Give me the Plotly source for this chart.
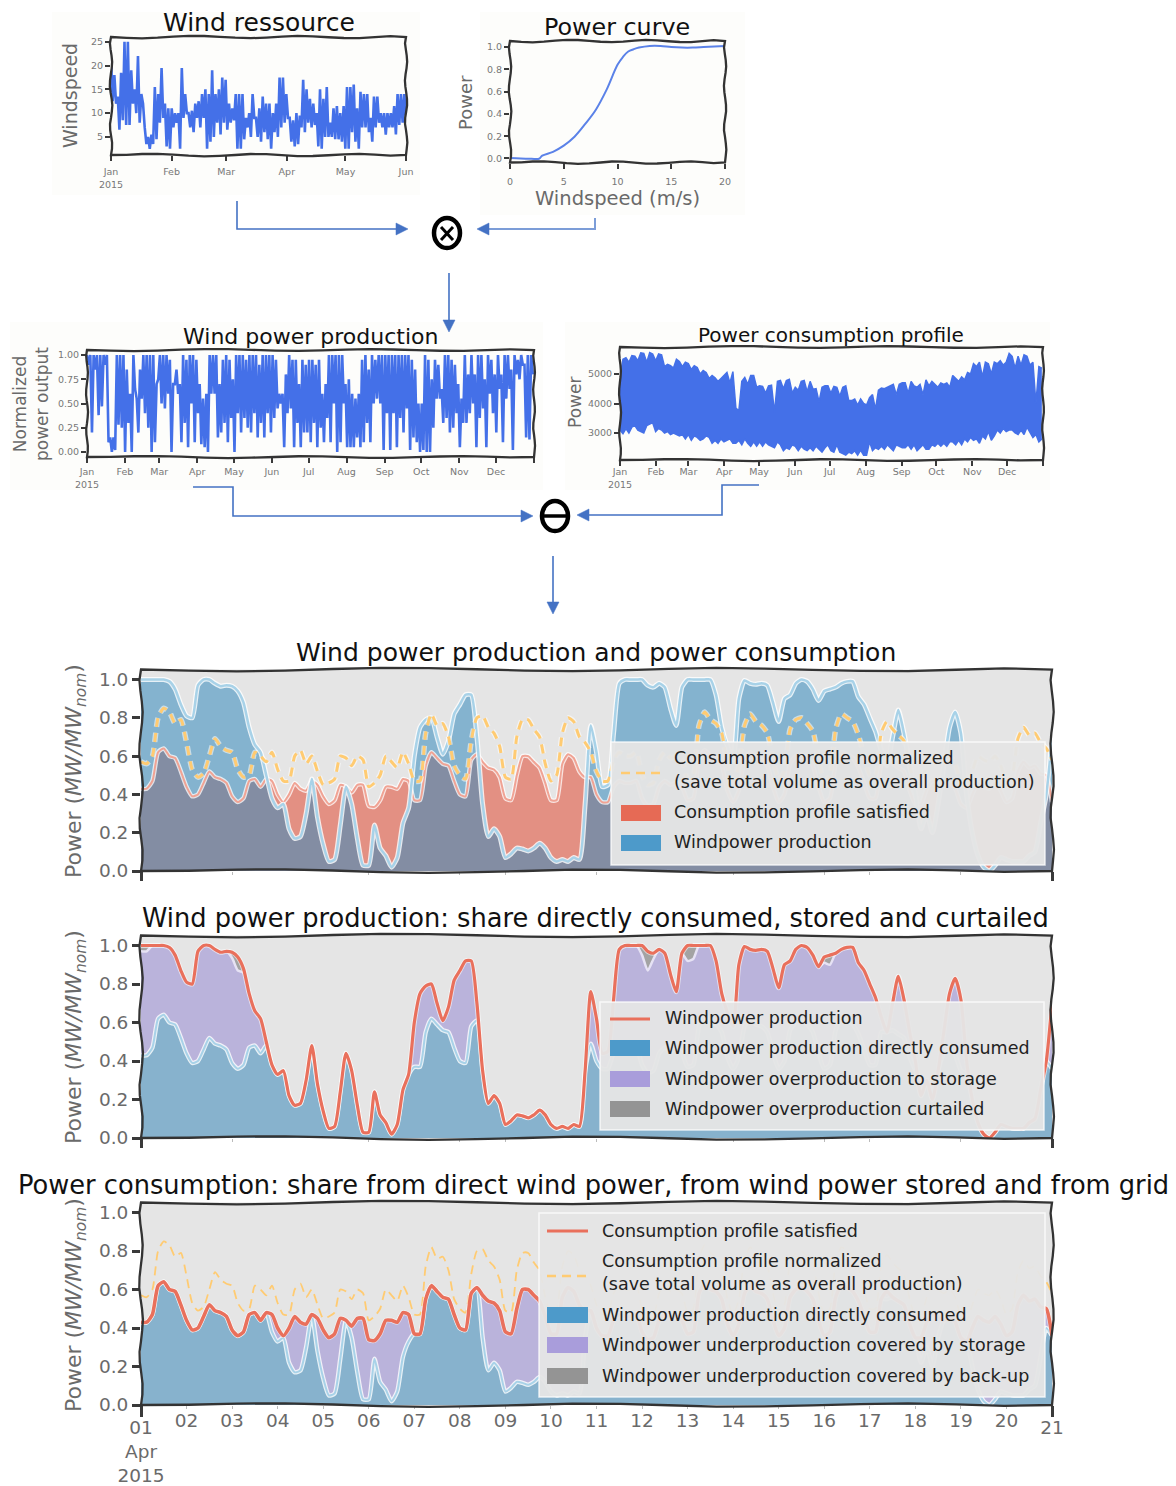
import numpy as np
import pandas as pd
import plotly.graph_objects as go

W, H = 1176, 1486
FONT = "DejaVu Sans"

# ---------- data ----------
wind_high = [21.5,18,13.5,18.5,25,25,19,15,22,14,7,5,5.5,15.5,14,19.5,12,11,11,10,10,19.5,14,10,10.5,12,12.5,14,15,14,19,14,15,17.5,17,12,11,14,14,14,9,10,14,9,11,13.5,12,12,10,12,17.5,17.5,14,9,8.5,10,9.5,17,15,13,12,10,15,13,15.5,8,11,11.5,10,11.5,15.5,15.5,16,11,14.5,14,14,9,13.5,13.5,10,10,10,10,11.5,14,14,14]
wind_low = [12.5,12,6.5,8.5,7.5,7.5,12,10,8,12,3.5,2.5,3.5,4.5,8,9,3,2.5,7,8,2.5,9,10,7,6,9,7,9,2.5,4,5,8,5.5,8,6.5,8,8.5,2.5,2.5,4.5,7,5,9,5,4,6,4.5,2.5,6,5,7,8,9,4,3,3.5,7,6,8,7,7.5,3,2.5,5,5,5,4.5,4.5,4,2.5,2.5,6,4,2.5,7,7,6,4,7,8,7,5.5,7,7,5.5,7.5,8,9]

curve_speed = [0,1,2,2.7,3,4,5,6,7,8,9,10,10.5,11,11.5,12,13,14,15,16,17,18,19,20]
curve_power = [.005,0,-.002,-.002,.025,.06,.115,.195,.31,.44,.62,.84,.91,.96,.98,.995,1.01,1.01,1.0,.995,.995,1.0,1.005,1.01]

prod_high = [1,1,1,1,1,1,1,.15,.15,1,1,1,.85,.6,1,.55,.85,1,1,1,1,.7,1,1,1,.95,.7,.85,.7,1,.95,1,1,.95,.7,.55,.6,1,1,1,.7,.95,1,.95,.75,1,1,1,.95,1,1,1,.9,1,1,1,1,.95,.6,.6,.8,1,.95,.95,.7,.95,.9,.95,.95,
 .9,.95,.6,.7,1,1,1,1,1,.7,.75,.6,.55,.6,.95,1,.85,1,.95,1,1,1,1,1,1,1,1,1,1,.95,.85,.5,.5,1,.95,.75,.95,.9,.65,1,1,.95,.9,.7,.55,1,.8,1,.8,1,1,.75,1,.95,.8,1,.8,1,1,.85,1,.95,1,.9,1,1]
prod_low = [.9,.2,.85,.38,.47,.9,.1,0,.02,.28,.25,0,.3,0,.65,.2,.55,.4,.25,0,.1,.75,.5,.45,.6,0,.7,.6,.1,.3,.05,.5,.1,.4,.08,.05,0,.6,.6,.15,.2,.3,.1,.35,0,.4,.2,.35,.25,.2,.4,.15,.3,.15,.4,.2,.35,.45,.5,.05,.4,.45,.05,.3,.05,.2,.2,.1,.3,
 .05,.25,.1,.35,.1,.5,0,.1,.5,.05,.05,.05,.15,.05,.1,.3,.1,.5,.55,.5,.02,.4,.02,.4,.05,.35,.2,.45,.02,.15,.1,0,.02,0,0,.25,.55,.55,.3,.35,.2,.25,.4,.05,.3,.3,.4,.5,.05,.35,.45,.05,.6,.4,.2,.65,.1,.55,.65,.02,.8,.75,.9,.15,.13,.8]

cons_high = [4900,5500,5550,5400,5620,5600,5450,5720,5700,5400,5730,5680,
 5450,5680,5650,5250,5330,5280,5200,5500,5420,5250,5400,
 5350,5150,5280,5220,5000,5120,5050,4850,4950,4870,4750,4850,
 4950,5050,4700,5080,3850,3750,4750,4880,4650,4950,4950,4550,
 4600,4580,4350,4600,4620,3700,4750,4780,4500,4780,4820,4350,
 4550,4450,4750,4780,4400,4750,4480,4500,4050,4550,4600,4600,
 4350,4580,4550,4250,4550,4600,4100,4100,4150,3950,4150,4000,
 3950,4200,4300,3800,4450,4520,4500,4550,4600,4650,4300,4650,
 4700,4700,4350,4750,4600,4550,4650,4300,4800,4600,4750,4650,
 4550,4700,4650,4700,4550,4950,4850,4750,4900,4800,5050,5000,
 5350,5250,5400,4900,5400,5350,5000,5400,5350,5450,5300,5400,
 5700,5600,5200,5600,5300,5650,5600,5300,5400,4000,5250,5200]
cons_low = [3100,2980,3150,3000,3200,3250,3100,3050,3000,3250,3300,3350,
 3050,3150,3100,3000,3050,2950,3000,2950,2900,2950,2800,
 2950,2750,2900,2850,2750,2800,2900,2850,2650,2750,2650,2800,
 2700,2750,2800,2650,2650,2750,2600,2800,2650,2550,2700,2550,
 2700,2550,2700,2600,2550,2500,2700,2600,2400,2500,2450,2600,
 2550,2400,2550,2450,2400,2500,2400,2550,2450,2350,2500,2600,
 2400,2350,2600,2350,2300,2250,2350,2300,2400,2250,2420,2250,
 2250,2700,2400,2500,2450,2550,2450,2600,2500,2400,2600,2550,
 2500,2500,2600,2450,2600,2400,2500,2600,2450,2450,2600,2550,
 2650,2550,2650,2550,2700,2700,2600,2750,2600,2800,2700,2850,
 2750,2800,2650,2900,2800,3050,2750,2900,3100,3000,3150,3050,
 3100,3100,3000,2950,3100,2950,3200,3000,2850,2950,2700,2800]

# three-hourly series, 1 to 21 April 2015
wind_power = [1,1,1,1,1,.99,.95,.87,.81,.80,.97,1,1,.98,.965,.97,.965,.94,.88,.75,.66,.62,.50,.38,.33,.35,.22,.17,.18,.30,.48,.28,.14,.05,.06,.24,.44,.35,.17,.03,.03,.24,.12,.08,.02,.07,.25,.33,.60,.75,.79,.80,.70,.61,.68,.82,.87,.92,.92,.70,.35,.18,.22,.18,.07,.09,.12,.115,.105,.12,.145,.12,.07,.05,.06,.05,.07,.06,.35,.76,.62,
 .44,.45,.72,.98,1,1,1,1,.97,.96,.98,.96,.85,.76,.96,1,1,1,1,1,.92,.75,.65,.58,.9,.995,.98,.975,.98,.97,.88,.78,.90,.92,.98,1,.99,.95,.89,.94,.95,.96,.98,.99,.99,.91,.87,.80,.73,.63,.55,.70,.84,.72,.55,.40,.22,.30,.20,.35,.55,.75,.83,.72,.40,.20,.08,.02,0,.03,.07,.06,.05,.05,.05,.08,.10,.25,.40,.70]
satisfied = [.43,.43,.47,.62,.64,.60,.59,.52,.44,.39,.40,.46,.52,.49,.48,.46,.39,.36,.38,.47,.48,.44,.48,.47,.40,.36,.40,.46,.43,.42,.47,.45,.39,.35,.37,.45,.44,.41,.45,.45,.34,.335,.37,.44,.44,.43,.48,.47,.37,.37,.55,.62,.59,.56,.55,.47,.40,.39,.58,.61,.57,.54,.53,.49,.38,.37,.50,.60,.60,.57,.54,.46,.37,.37,.56,.61,.59,.52,.49,.49,.40,
 .36,.36,.44,.47,.46,.46,.47,.38,.34,.35,.44,.47,.45,.46,.44,.37,.38,.58,.63,.60,.59,.55,.42,.36,.42,.58,.62,.59,.58,.55,.44,.36,.40,.56,.60,.61,.59,.55,.44,.36,.38,.56,.62,.61,.59,.54,.46,.38,.38,.55,.59,.56,.54,.52,.42,.35,.35,.43,.47,.46,.44,.46,.43,.35,.33,.40,.46,.44,.43,.46,.42,.36,.38,.52,.57,.54,.55,.51,.50,.36]
normalized = [.57,.56,.60,.80,.85,.83,.77,.79,.67,.53,.49,.51,.60,.69,.65,.63,.62,.53,.49,.50,.62,.60,.57,.62,.53,.47,.47,.60,.63,.56,.60,.52,.45,.46,.48,.60,.59,.55,.60,.58,.44,.46,.50,.60,.57,.54,.62,.56,.47,.47,.72,.82,.76,.77,.70,.55,.50,.48,.68,.80,.81,.75,.72,.65,.49,.48,.70,.79,.79,.74,.70,.56,.47,.50,.72,.80,.78,.70,.67,.62,.52,
 .47,.47,.58,.62,.60,.60,.62,.50,.45,.46,.58,.62,.59,.60,.58,.48,.50,.76,.83,.79,.77,.72,.55,.47,.55,.76,.82,.78,.76,.72,.58,.48,.52,.74,.79,.80,.77,.73,.58,.47,.50,.74,.82,.80,.78,.71,.60,.50,.50,.72,.78,.74,.71,.68,.55,.46,.46,.56,.62,.60,.58,.60,.56,.46,.44,.52,.60,.58,.57,.60,.55,.47,.50,.69,.75,.71,.72,.67,.64,.58]
curtailed_steps = [0,1,16,17,18,88,89,90,96,97,120,121]
curtailed_vals = [.03,.03,.03,.07,.02,.05,.10,.03,.08,.07,.03,.05]

month_ticks_5 = ["2015-01-01","2015-02-01","2015-03-01","2015-04-01","2015-05-01","2015-06-01"]
month_labels_5 = ["Jan<br>2015","Feb","Mar","Apr","May","Jun"]
month_ticks_12 = ["2015-%02d-01"%m for m in range(1,13)]
month_labels_12 = ["Jan<br>2015","Feb","Mar","Apr","May","Jun","Jul","Aug","Sep","Oct","Nov","Dec"]
faint_days = ["2015-04-03","2015-04-06","2015-04-08","2015-04-09","2015-04-11","2015-04-14","2015-04-16","2015-04-17","2015-04-19"]

# ---------- derived ----------
def zigzag(hi,lo):
    k=min(len(hi),len(lo)); z=np.empty(2*k); z[0::2]=hi[:k]; z[1::2]=lo[:k]; return z
wind_speed = zigzag(wind_high,wind_low)
production = zigzag(prod_high,prod_low)
t_wind = pd.date_range("2015-01-01","2015-06-01",periods=len(wind_speed))
t_prod = pd.date_range("2015-01-01","2015-12-31",periods=len(production))
t_cons = pd.date_range("2015-01-01","2015-12-31",periods=min(len(cons_high),len(cons_low)))
w = np.array(wind_power); s = np.array(satisfied); n = np.array(normalized)
m = min(len(w),len(s),len(n)); w=w[:m]; s=s[:m]; n=n[:m]
t3h = pd.date_range("2015-04-01","2015-04-21",periods=m)
c = np.zeros(m); c[curtailed_steps]=curtailed_vals
direct = np.minimum(w,s)
stored_top = w-c

BG="#e5e5e5"; BLUE="#4470e8"; TXT="#111111"; GR="#6a6a6a"
WFILL="rgba(52,138,189,0.55)"; RFILL="rgba(226,74,51,0.55)"
LILAC="#bab3db"; CYAN="#a8d2e8"; RED="#e9705c"; YEL="#ffcb72"

fig=go.Figure()
layout_axes={}
shapes=[]; ann=[]

def fx(x): return x/W
def fy(y): return 1-y/H

def axes(i,x0,x1,ytop,ybot,xr,yr,xa,ya):
    sx="" if i==1 else str(i)
    base=dict(showgrid=False,zeroline=False,showline=False,ticks="outside",tickcolor="#3a3a3a")
    layout_axes["xaxis"+sx]={**base,"domain":[fx(x0),fx(x1)],"anchor":"y"+sx,"range":xr,**xa}
    layout_axes["yaxis"+sx]={**base,"domain":[fy(ybot),fy(ytop)],"anchor":"x"+sx,"range":yr,**ya}
    return dict(xaxis="x"+sx,yaxis="y"+sx)

SMALL=dict(size=9.5,color="#777777",family=FONT)
def sm(tv,tt,tl=5,font=SMALL):
    return dict(tickmode="array",tickvals=tv,ticktext=tt,ticklen=tl,tickwidth=2,tickfont=font)
END=dict(minor=dict(tickmode="array",tickvals=["2016-01-01"],ticks="outside",ticklen=5,tickwidth=2,tickcolor="#3a3a3a"))

# 1 wind resource
a=axes(1,111,406,37,155,["2015-01-01","2015-06-01"],[1.2,26.0],
       dict(type="date",ticklabelstandoff=3,**sm(month_ticks_5,month_labels_5)),
       sm([5,10,15,20,25],["5","10","15","20","25"]))
fig.add_trace(go.Scatter(x=t_wind,y=wind_speed,mode="lines",line=dict(color=BLUE,width=2.6),showlegend=False,**a))
# 2 power curve
a=axes(2,510,725,41,162.5,[0,20],[-.036,1.054],
       dict(ticklabelstandoff=5,**sm([0,5,10,15,20],["0","5","10","15","20"])),
       sm([0,.2,.4,.6,.8,1],["0.0","0.2","0.4","0.6","0.8","1.0"]))
fig.add_trace(go.Scatter(x=curve_speed,y=curve_power,mode="lines",line=dict(color="#5b82e8",width=2,shape="spline"),showlegend=False,**a))
# 3 production
a=axes(3,87,534,350,457,["2015-01-01","2016-01-01"],[-.052,1.052],
       dict(type="date",ticklabelstandoff=1,**sm(month_ticks_12,month_labels_12),**END),
       sm([0,.25,.5,.75,1],["0.00","0.25","0.50","0.75","1.00"]))
fig.add_trace(go.Scatter(x=t_prod,y=production,mode="lines",line=dict(color=BLUE,width=2.6),showlegend=False,**a))
# 4 consumption profile
a=axes(4,620,1043,347,460,["2015-01-01","2016-01-01"],[2085,5915],
       dict(type="date",ticklabelstandoff=-2,**sm(month_ticks_12,month_labels_12),**END),
       sm([3000,4000,5000],["3000","4000","5000"]))
fig.add_trace(go.Scatter(x=t_cons,y=cons_high,mode="lines",line=dict(color=BLUE,width=1.5),showlegend=False,**a))
fig.add_trace(go.Scatter(x=t_cons,y=cons_low,mode="lines",line=dict(color=BLUE,width=1.5),fill="tonexty",fillcolor=BLUE,showlegend=False,**a))

BIG=dict(size=18.5,color=GR,family=FONT)
ytv=[0,.2,.4,.6,.8,1]; ytt=["0.0","0.2","0.4","0.6","0.8","1.0"]
xr3=["2015-04-01","2015-04-21"]
def bigx():
    return dict(type="date",tickmode="array",tickvals=["2015-04-01","2015-04-21"],ticklen=9,tickwidth=3,
                showticklabels=False,minor=dict(tickmode="array",tickvals=faint_days,ticklen=3,tickcolor="#bbbbbb",ticks="outside",tickwidth=1))
bigy=dict(tickmode="array",tickvals=ytv,ticktext=ytt,ticklen=8,tickwidth=2.5,tickfont=BIG)
YR=[0,1.052]
def line(y,a,color,width,dash=None):
    return go.Scatter(x=t3h,y=y,mode="lines",line=dict(color=color,width=width,dash=dash,shape="spline",smoothing=.6),showlegend=False,hoverinfo="skip",**a)
def area(y,a,color,fill):
    return go.Scatter(x=t3h,y=y,mode="lines",line=dict(width=0,shape="spline",smoothing=.6),fill=fill,fillcolor=color,showlegend=False,**a)

# 5 production and consumption
a=axes(5,141,1052,669.5,871,xr3,YR,bigx(),bigy)
fig.add_trace(area(s,a,RFILL,"tozeroy"))
fig.add_trace(area(w,a,WFILL,"tozeroy"))
fig.add_trace(line(s,a,"rgba(255,255,255,.75)",4.5)); fig.add_trace(line(s,a,"#f0a394",2))
fig.add_trace(line(w,a,"rgba(255,255,255,.8)",5)); fig.add_trace(line(w,a,CYAN,2.5))
DS="9px,6px"
fig.add_trace(line(n,a,"rgba(255,255,255,.55)",5.5,DS)); fig.add_trace(line(n,a,YEL,3,DS))

# 6 share of production
a=axes(6,141,1052,935.5,1138,xr3,YR,bigx(),bigy)
fig.add_trace(area(direct,a,"#87b2cd","tozeroy"))
fig.add_trace(area(stored_top,a,LILAC,"tonexty"))
fig.add_trace(area(w,a,"#a3a3a3","tonexty"))
fig.add_trace(line(stored_top,a,"#e6e2f4",2.5))
fig.add_trace(line(direct,a,"rgba(255,255,255,.8)",4.5)); fig.add_trace(line(direct,a,CYAN,2))
fig.add_trace(line(w,a,"rgba(255,255,255,.6)",5)); fig.add_trace(line(w,a,RED,3.2))

# 7 share of consumption
a=axes(7,141,1052,1202.5,1405,xr3,YR,
       dict(type="date",tickmode="array",tickvals=["2015-04-%02d"%d for d in range(2,21)],ticktext=["%02d"%d for d in range(2,21)],ticklen=3,tickwidth=1,tickcolor="#bbbbbb",tickfont=BIG,ticklabelstandoff=-4),bigy)
fig.add_trace(area(direct,a,"#87b2cd","tozeroy"))
fig.add_trace(area(s,a,LILAC,"tonexty"))
fig.add_trace(line(direct,a,"rgba(255,255,255,.8)",4.5)); fig.add_trace(line(direct,a,CYAN,2))
fig.add_trace(line(n,a,YEL,1.8,"9px,6px"))
fig.add_trace(line(s,a,"rgba(255,255,255,.6)",5)); fig.add_trace(line(s,a,RED,3.6))
layout_axes["xaxis8"]=dict(domain=layout_axes["xaxis7"]["domain"],anchor="y7",overlaying="x7",range=xr3,type="date",showgrid=False,zeroline=False,
    tickmode="array",tickvals=["2015-04-01","2015-04-21"],ticktext=["01<br>Apr<br>2015","21"],ticks="outside",ticklen=11,tickwidth=3,tickcolor="#3a3a3a",tickfont=BIG,ticklabelstandoff=-5)
fig.add_trace(go.Scatter(x=["2015-04-01"],y=[0],xaxis="x8",yaxis="y7",mode="markers",marker=dict(opacity=0,size=1),showlegend=False,hoverinfo="skip"))

# ---------- page decoration ----------
def rect(x0,y0,x1,y1,fill,layer="above"):
    shapes.append(dict(type="rect",xref="paper",yref="paper",x0=fx(x0),x1=fx(x1),y0=fy(y0),y1=fy(y1),fillcolor=fill,layer=layer,line=dict(width=0)))
for r in [(52,12,420,195),(480,12,745,215),(10,322,543,490),(565,322,1050,490)]:
    rect(*r,"#fdfdfb",layer="below")

WOB=[0,.9,1.5,.8,-.4,-1.3,-1.1,-.2,.8,1.3,.6,-.5,-1.2,-.7,.3,1.1,1.2,.2,-.9,-1.1]
def wavy(x0,y0,x1,y1,amp,start):
    n_=len(WOB); pts=[]
    for k in range(n_):
        t=k/(n_-1); o=WOB[(k+start)%n_]*amp*(0 if k in(0,n_-1) else 1)
        if y0==y1: pts.append((x0+(x1-x0)*t,y0+o))
        else: pts.append((x0+o,y0+(y1-y0)*t))
    return pts
def frame(x0,y0,x1,y1,amp=1.0,lw=2.3):
    p=wavy(x0,y0,x1,y0,amp,0)+wavy(x1,y0,x1,y1,amp,5)[1:]+wavy(x1,y1,x0,y1,amp,9)[1:]+wavy(x0,y1,x0,y0,amp,14)[1:]
    path="M "+" L ".join("%.5f,%.5f"%(fx(a_),fy(b_)) for a_,b_ in p)+" Z"
    shapes.append(dict(type="path",path=path,xref="paper",yref="paper",line=dict(color="#333333",width=lw),layer="above"))
def poly(pts,color,lw=1.6,fill=None):
    path="M "+" L ".join("%.5f,%.5f"%(fx(a_),fy(b_)) for a_,b_ in pts)+(" Z" if fill else "")
    d=dict(type="path",path=path,xref="paper",yref="paper",line=dict(color=color,width=lw),layer="above")
    if fill: d["fillcolor"]=fill
    shapes.append(d)
AR="#4472c4"; ARL="#7c9dd8"
def head(tx,ty,dx,dy):
    L=12;Hw=6
    if dx: pts=[(tx,ty),(tx-dx*L,ty-Hw),(tx-dx*L,ty+Hw)]
    else: pts=[(tx,ty),(tx-Hw,ty-dy*L),(tx+Hw,ty-dy*L)]
    poly(pts,AR,0.5,AR)
poly([(237,201),(237,229),(397,229)],AR); head(408,229,1,0)
poly([(595,218),(595,229),(487,229)],ARL,2); head(477,229,-1,0)
poly([(449,273),(449,322)],AR); head(449,332,0,1)
poly([(193,487),(233,487),(233,516),(522,516)],AR); head(533,516,1,0)
poly([(759,485),(722,485),(722,515),(588,515)],AR); head(577,515,-1,0)
poly([(553,556),(553,604)],AR); head(553,614,0,1)

def circle(cx,cy,rx,ry):
    shapes.append(dict(type="circle",xref="paper",yref="paper",x0=fx(cx-rx),x1=fx(cx+rx),y0=fy(cy-ry),y1=fy(cy+ry),line=dict(color="#000",width=4.5),fillcolor="#ffffff",layer="above"))
circle(447,233,13,15)
poly([(441,227),(453,240)],"#000",3); poly([(453,227),(441,240)],"#000",3)
circle(555,516,13,15)
poly([(544,516),(566,516)],"#000",3.5)

def text(x,y,t,size,color=TXT,angle=0,anchor="center"):
    ann.append(dict(x=fx(x),y=fy(y),xref="paper",yref="paper",text=t,showarrow=False,xanchor=anchor,yanchor="middle",textangle=angle,
                    font=dict(family=FONT,size=size,color=color)))
text(259,23,"Wind ressource",25)
text(617,27,"Power curve",23.8)
text(617,199,"Windspeed (m/s)",19.5,GR)
text(310,337,"Wind power production",22)
text(831,335,"Power consumption profile",20)
text(596,652,"Wind power production and power consumption",25)
text(595,918,"Wind power production: share directly consumed, stored and curtailed",25.7)
text(594,1185,"Power consumption: share from direct wind power, from wind power stored and from grid",25.7)
text(70,96,"Windspeed",19,GR,-90)
text(465,103,"Power",18,GR,-90)
text(31,404,"Normalized<br>power output",17,GR,-90)
text(575,403,"Power",17,GR,-90)
YT="Power (<i>MW/MW<sub>nom</sub></i>)"
text(75,771,YT,22,GR,-90); text(75,1037,YT,22,GR,-90); text(75,1305,YT,22,GR,-90)

def legend(box,sx0,sx1,tx,rows,fs):
    shapes.append(dict(type="rect",xref="paper",yref="paper",x0=fx(box[0]),x1=fx(box[2]),y0=fy(box[1]),y1=fy(box[3]),
        fillcolor="rgba(229,229,229,.96)",line=dict(color="rgba(255,255,255,.75)",width=1.5),layer="above"))
    for r in rows:
        kind=r[0]
        if kind=="t":
            text(tx,r[1],r[2],fs,"#222222",anchor="left")
        elif kind=="a":
            shapes.append(dict(type="rect",xref="paper",yref="paper",x0=fx(sx0),x1=fx(sx1),y0=fy(r[1]-8),y1=fy(r[1]+8),fillcolor=r[2],line=dict(width=0),layer="above"))
        elif kind=="l":
            shapes.append(dict(type="line",xref="paper",yref="paper",x0=fx(sx0),x1=fx(sx1),y0=fy(r[1]),y1=fy(r[1]),line=dict(color=r[2],width=3),layer="above"))
        elif kind=="d":
            shapes.append(dict(type="line",xref="paper",yref="paper",x0=fx(sx0),x1=fx(sx1),y0=fy(r[1]),y1=fy(r[1]),line=dict(color=r[2],width=2.5,dash="9px,6px"),layer="above"))
A_B="#4d9aca"; A_R="#e66a55"; A_L="#a99ddb"; A_G="#949494"
FS=17.5
legend((611,742,1045,865),621,661,672,[("d",773,YEL),("t",758,"Consumption profile normalized"),("t",782,"(save total volume as overall production)"),
   ("a",813,A_R),("t",812,"Consumption profile satisfied"),("a",843,A_B),("t",842,"Windpower production")],FS)
legend((600,1002,1044,1130),610,650,663,[("l",1019,RED),("t",1018,"Windpower production"),("a",1048,A_B),("t",1048,"Windpower production directly consumed"),
   ("a",1079,A_L),("t",1079,"Windpower overproduction to storage"),("a",1109,A_G),("t",1109,"Windpower overproduction curtailed")],FS)
legend((539,1213,1045,1397),547,588,600,[("l",1231,RED),("t",1231,"Consumption profile satisfied"),("d",1276,YEL),("t",1261,"Consumption profile normalized"),("t",1284,"(save total volume as overall production)"),
   ("a",1315,A_B),("t",1315,"Windpower production directly consumed"),("a",1345,A_L),("t",1345,"Windpower underproduction covered by storage"),("a",1376,A_G),("t",1376,"Windpower underproduction covered by back-up")],FS)

frame(111,37,406,155,.9); frame(510,41,725,162.5,.9); frame(87,350,534,457,.7); frame(620,347,1043,460,.7)
frame(141,669.5,1052,871,1.3); frame(141,935.5,1052,1138,1.3); frame(141,1202.5,1052,1405,1.3)

fig.update_layout(width=W,height=H,margin=dict(l=0,r=0,t=0,b=0,autoexpand=False),paper_bgcolor="#ffffff",plot_bgcolor=BG,showlegend=False,
                  shapes=shapes,annotations=ann,font=dict(family=FONT),**layout_axes)
fig.write_html("out.html",post_script="document.body.style.margin='0';document.body.style.overflow='hidden';",config=dict(displayModeBar=False))
